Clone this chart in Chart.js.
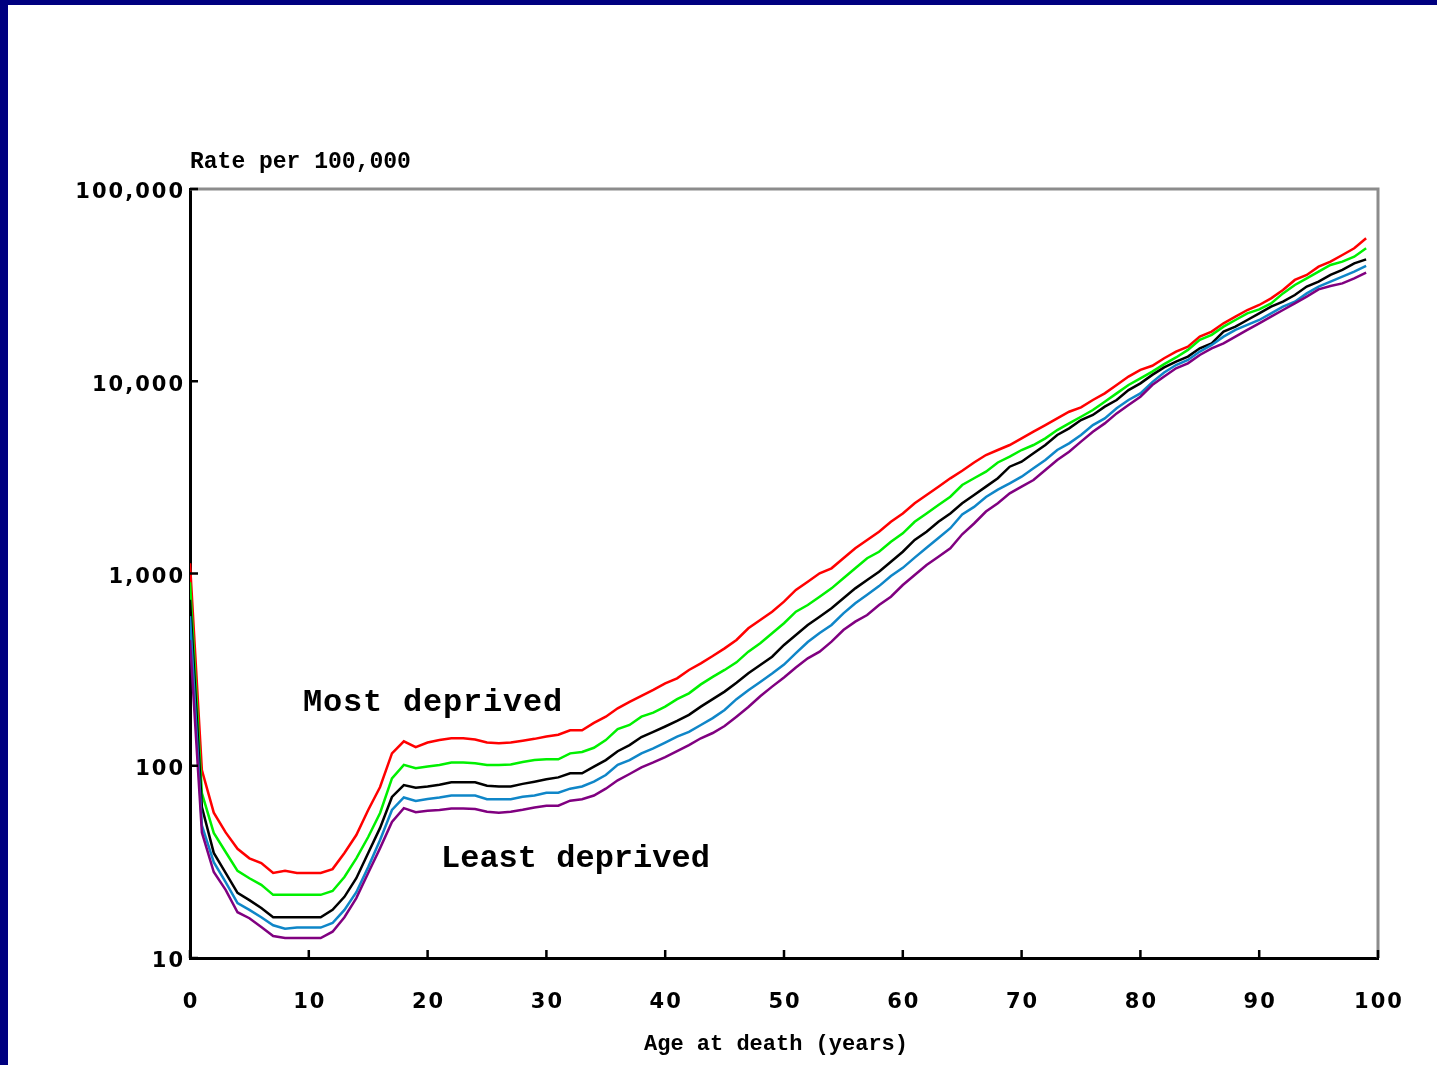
<!DOCTYPE html>
<html>
<head>
<meta charset="utf-8">
<script src="https://cdn.jsdelivr.net/npm/chart.js@4.4.1/dist/chart.umd.min.js"></script>
<style>
  html, body { margin: 0; padding: 0; background: #000080; width: 1437px; height: 1065px; overflow: hidden; }
  #wrap { position: absolute; left: 8px; top: 5px; width: 1429px; height: 1060px; background: #fff; }
</style>
</head>
<body>
<div id="wrap"><canvas id="mortalityChart"></canvas></div>
<script>
// Age at death (years)
const ages = [
    0, 1, 2, 3, 4, 5, 6, 7, 8, 9,
    10, 11, 12, 13, 14, 15, 16, 17, 18, 19,
    20, 21, 22, 23, 24, 25, 26, 27, 28, 29,
    30, 31, 32, 33, 34, 35, 36, 37, 38, 39,
    40, 41, 42, 43, 44, 45, 46, 47, 48, 49,
    50, 51, 52, 53, 54, 55, 56, 57, 58, 59,
    60, 61, 62, 63, 64, 65, 66, 67, 68, 69,
    70, 71, 72, 73, 74, 75, 76, 77, 78, 79,
    80, 81, 82, 83, 84, 85, 86, 87, 88, 89,
    90, 91, 92, 93, 94, 95, 96, 97, 98, 99
];

// Rate per 100,000, by deprivation fifth
const mostDeprived = [
    1130, 95, 57, 45, 37, 33, 31.2, 27.7, 28.4, 27.7,
    27.7, 27.7, 29, 35.2, 43.6, 58.9, 77.5, 116, 134, 125,
    132, 136, 139, 139, 137, 132, 131, 132, 135, 138,
    142, 145, 153, 153, 167, 180, 199, 215, 231, 248,
    268, 285, 315, 341, 372, 408, 451, 519, 573, 633,
    714, 821, 906, 1002, 1064, 1200, 1352, 1494, 1650, 1859,
    2054, 2317, 2559, 2829, 3126, 3420, 3780, 4131, 4389, 4660,
    5046, 5465, 5919, 6411, 6943, 7317, 7986, 8649, 9565, 10580,
    11450, 12040, 13170, 14270, 15130, 17070, 18130, 20010, 21670, 23470,
    24930, 27000, 29850, 33650, 35730, 39460, 41910, 45370, 49150, 55450
];
const fourth = [
    900, 72, 44.7, 35.6, 28.4, 26, 24, 21.3, 21.3, 21.3,
    21.3, 21.3, 22.3, 26.4, 33, 42.6, 56.8, 86, 101, 97,
    99, 101, 104, 104, 103, 101, 101, 101.5, 104.7, 107,
    108, 108, 116, 118, 124, 136, 155, 163, 180, 189,
    203, 222, 238, 265, 290, 315, 345, 392, 434, 489,
    551, 633, 686, 757, 837, 944, 1064, 1200, 1298, 1463,
    1618, 1859, 2054, 2271, 2507, 2886, 3130, 3388, 3780, 4052,
    4389, 4660, 5046, 5574, 6037, 6538, 7082, 7828, 8649, 9565,
    10360, 11220, 12280, 13300, 14560, 16410, 17430, 19240, 20830, 22560,
    23650, 25420, 28650, 31670, 34300, 37150, 40230, 41910, 44460, 49150
];
const middle = [
    730, 61, 35.2, 27.7, 21.8, 20, 18.2, 16.3, 16.3, 16.3,
    16.3, 16.3, 17.8, 20.8, 26, 35.2, 47.5, 68.8, 79.4, 76.8,
    78, 79.6, 82, 82, 82, 78.7, 78, 78, 80.5, 82.6,
    85, 87, 91.4, 91.4, 99, 107, 119, 128, 141, 150,
    160, 171, 184, 203, 222, 243, 270, 303, 334, 369,
    425, 479, 540, 596, 659, 743, 837, 925, 1022, 1152,
    1298, 1494, 1650, 1859, 2054, 2317, 2560, 2830, 3130, 3594,
    3816, 4218, 4660, 5254, 5690, 6287, 6675, 7375, 7986, 9000,
    9750, 10790, 11800, 12650, 13440, 14840, 15750, 18130, 19240, 20830,
    22560, 24430, 25940, 28100, 31070, 32980, 35730, 37930, 41070, 43070
];
const second = [
    600, 49, 31.5, 24.8, 19.3, 17.8, 16.3, 14.8, 14.2, 14.4,
    14.4, 14.4, 15.2, 17.8, 22, 29.7, 41.1, 58.9, 68.4, 65.6,
    67.2, 68.4, 70, 70, 70, 67, 66.9, 67, 69, 70,
    72.4, 72.4, 76, 78, 82.6, 89.5, 101, 107, 116, 123,
    132, 141.6, 150, 163, 177, 195, 222, 247, 273, 302,
    336, 385, 440, 490, 540, 620, 700, 775, 860, 970,
    1070, 1210, 1360, 1530, 1720, 2030, 2220, 2500, 2730, 2944,
    3188, 3526, 3894, 4389, 4755, 5254, 5919, 6411, 7229, 7986,
    8649, 9900, 11100, 12150, 12910, 14270, 15450, 17070, 18490, 19630,
    20830, 22560, 24430, 25940, 28650, 31070, 32980, 34990, 37150, 39780
];
const leastDeprived = [
    450, 45, 28, 22.6, 17.3, 16.1, 14.5, 13, 12.7, 12.7,
    12.7, 12.7, 13.7, 16.3, 20.5, 27.7, 37.3, 51, 60.2, 57.3,
    58.4, 58.8, 60, 60, 59.6, 57.6, 57, 57.6, 59, 60.7,
    62, 62, 65.8, 67, 70, 76, 84, 90.6, 98, 104,
    111, 119, 128, 139, 148, 161, 180, 202, 230, 258,
    288, 324, 362, 392, 442, 508, 562, 608, 686, 757,
    871, 982, 1107, 1222, 1352, 1600, 1820, 2100, 2320, 2612,
    2829, 3064, 3453, 3894, 4303, 4850, 5465, 6037, 6806, 7520,
    8310, 9560, 10580, 11680, 12400, 13700, 14840, 15750, 17070, 18490,
    20010, 21670, 23470, 25420, 27540, 30060, 31270, 32300, 34300, 36730
];

// Axis ticks
const yTicks = [10, 100, 1000, 10000, 100000];
const xTicks = [0, 10, 20, 30, 40, 50, 60, 70, 80, 90, 100];

const toPoints = (vals) => ages.map((a, i) => ({ x: a, y: vals[i] }));

const lineStyle = (color) => ({
    borderColor: color,
    backgroundColor: color,
    borderWidth: 2.5,
    pointRadius: 0,
    tension: 0,
    fill: false
});

const serifBold = '"Liberation Mono", "Courier New", monospace';
const tickFont = { family: '"DejaVu Sans", Verdana, sans-serif', size: 21, weight: 'bold' };

// Extra drawing: grey frame, inward ticks, captions and annotations
const decorPlugin = {
    id: 'decor',
    afterDatasetsDraw(chart) {
        // tick labels are drawn after the datasets (z: 1), spaced out a little
        chart.ctx.letterSpacing = '2px';
    },
    afterDraw(chart) {
        const { ctx, chartArea: area, scales: { x, y } } = chart;
        ctx.save();
        ctx.letterSpacing = '0px';

        // grey top / right frame
        ctx.strokeStyle = '#8c8c8c';
        ctx.lineWidth = 3;
        ctx.beginPath();
        ctx.moveTo(area.left, area.top);
        ctx.lineTo(area.right, area.top);
        ctx.lineTo(area.right, area.bottom);
        ctx.stroke();

        // inward tick marks
        ctx.strokeStyle = '#000';
        ctx.lineWidth = 2.5;
        ctx.beginPath();
        xTicks.forEach(v => {
            const px = x.getPixelForValue(v);
            ctx.moveTo(px, area.bottom);
            ctx.lineTo(px, area.bottom - 8);
        });
        yTicks.forEach(v => {
            const py = y.getPixelForValue(v);
            ctx.moveTo(area.left, py);
            ctx.lineTo(area.left + 8, py);
        });
        ctx.stroke();

        ctx.fillStyle = '#000';
        ctx.textAlign = 'left';
        ctx.textBaseline = 'alphabetic';

        ctx.font = 'bold 23px ' + serifBold;
        ctx.fillText('Rate per 100,000', area.left, area.top - 21);

        ctx.font = 'bold 32px ' + serifBold;
        ctx.letterSpacing = '0.8px';
        ctx.fillText('Most deprived', 295, 706);
        ctx.letterSpacing = '0px';
        ctx.fillText('Least deprived', 433, 862);

        ctx.font = 'bold 22px ' + serifBold;
        ctx.textAlign = 'center';
        ctx.textBaseline = 'middle';
        ctx.fillText('Age at death (years)', (area.left + area.right) / 2 - 8, 1039);

        ctx.restore();
        ctx.letterSpacing = '0px';
    }
};

const ctx = document.getElementById('mortalityChart');

new Chart(ctx, {
    type: 'line',
    data: {
        datasets: [
            { label: 'Least deprived', data: toPoints(leastDeprived), ...lineStyle('#800080') },
            { label: 'Second', data: toPoints(second), ...lineStyle('#0f86c8') },
            { label: 'Middle', data: toPoints(middle), ...lineStyle('#000000') },
            { label: 'Fourth', data: toPoints(fourth), ...lineStyle('#00f000') },
            { label: 'Most deprived', data: toPoints(mostDeprived), ...lineStyle('#ff0000') }
        ]
    },
    options: {
        responsive: true,
        maintainAspectRatio: false,
        animation: false,
        layout: {
            padding: { top: 184, right: 59, left: 0, bottom: 0 }
        },
        plugins: {
            legend: { display: false },
            tooltip: { enabled: false }
        },
        scales: {
            x: {
                type: 'linear',
                min: 0,
                max: 100,
                afterFit: (scale) => { scale.height = 107; },
                afterBuildTicks: (scale) => { scale.ticks = xTicks.map(v => ({ value: v })); },
                grid: { display: false, drawTicks: false },
                border: { display: true, color: '#000', width: 3 },
                ticks: {
                    z: 1,
                    color: '#000',
                    padding: 32,
                    labelOffset: 1,
                    maxRotation: 0,
                    autoSkip: false,
                    font: tickFont
                }
            },
            y: {
                type: 'logarithmic',
                min: 10,
                max: 100000,
                afterFit: (scale) => { scale.width = 182; },
                afterBuildTicks: (scale) => { scale.ticks = yTicks.map(v => ({ value: v, major: true })); },
                grid: { display: false, drawTicks: false },
                border: { display: true, color: '#000', width: 3 },
                ticks: {
                    z: 1,
                    color: '#000',
                    padding: 5,
                    labelOffset: 4,
                    autoSkip: false,
                    font: tickFont,
                    callback: (v) => Number(v).toLocaleString('en-US')
                }
            }
        }
    },
    plugins: [decorPlugin]
});
</script>
</body>
</html>
